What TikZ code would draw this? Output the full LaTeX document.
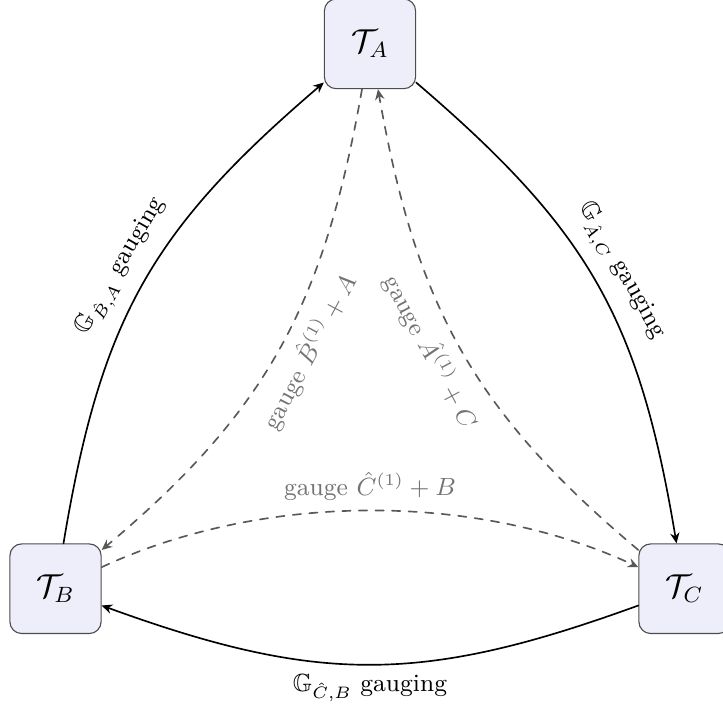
\documentclass[tikz,border=0pt]{standalone}
\usepackage{amsmath,amssymb}
\usepackage{xcolor}
\usepackage{tikz}
\usetikzlibrary{arrows.meta,positioning}
\definecolor{boxfill}{HTML}{EEEEFB}

\begin{document}
\begin{tikzpicture}[
			line cap=round,
			line join=round,
			theory/.style={draw=black!70, fill=boxfill, rounded corners=1.5mm,
				minimum width=1.16cm, minimum height=1.14cm, font=\large},
			gauging/.style={-{Stealth[length=3.8pt,width=3.4pt]}, semithick, bend left=20, looseness=1.1},
			partial/.style={-{Stealth[length=3.8pt,width=3.4pt]}, semithick, dashed, black!65},
			lbl/.style={font=\small, sloped},
			glbl/.style={font=\small, text=black!55}
			]
			
			% fixed frame, the right box runs past it
			\useasboundingbox (-0.706,-1.527) rectangle (8.49,7.488);
			
			% the three theories
			\node[theory] (TB) at (0,0) {$\mathcal{T}_B$};
			\node[theory] (TC) at (8,0) {$\mathcal{T}_C$};
			\node[theory] (TA) at (4,6.93) {$\mathcal{T}_A$};
			
			%------------------------------
			% full gaugings (outer)
			%------------------------------
			\draw[gauging] (TB) to node[lbl, above=1pt, pos=0.51] {$\mathbb{G}_{\hat{B},A}$ gauging} (TA);
			\draw[gauging] (TA) to node[lbl, above=1pt, pos=0.5] {$\mathbb{G}_{\hat{A},C}$ gauging} (TC);
			\draw[gauging] (TC) to node[font=\small, below] {$\mathbb{G}_{\hat{C},B}$ gauging} (TB);
			
			%------------------------------
			% partial gaugings (inner)
			%------------------------------
			\draw[partial] (TA) to[out=260, in=40, looseness=1.05]
			node[glbl, sloped, below=1pt, pos=0.48] {gauge $\hat{B}^{(1)}+A$} (TB);
			\draw[partial] (TC) to[out=140, in=280, looseness=1.05]
			node[glbl, sloped, below=1pt, pos=0.52] {gauge $\hat{A}^{(1)}+C$} (TA);
			\draw[partial] (TB) to[out=25, in=155, looseness=0.85]
			node[glbl, above] {gauge $\hat{C}^{(1)}+B$} (TC);
		\end{tikzpicture}
\end{document}
